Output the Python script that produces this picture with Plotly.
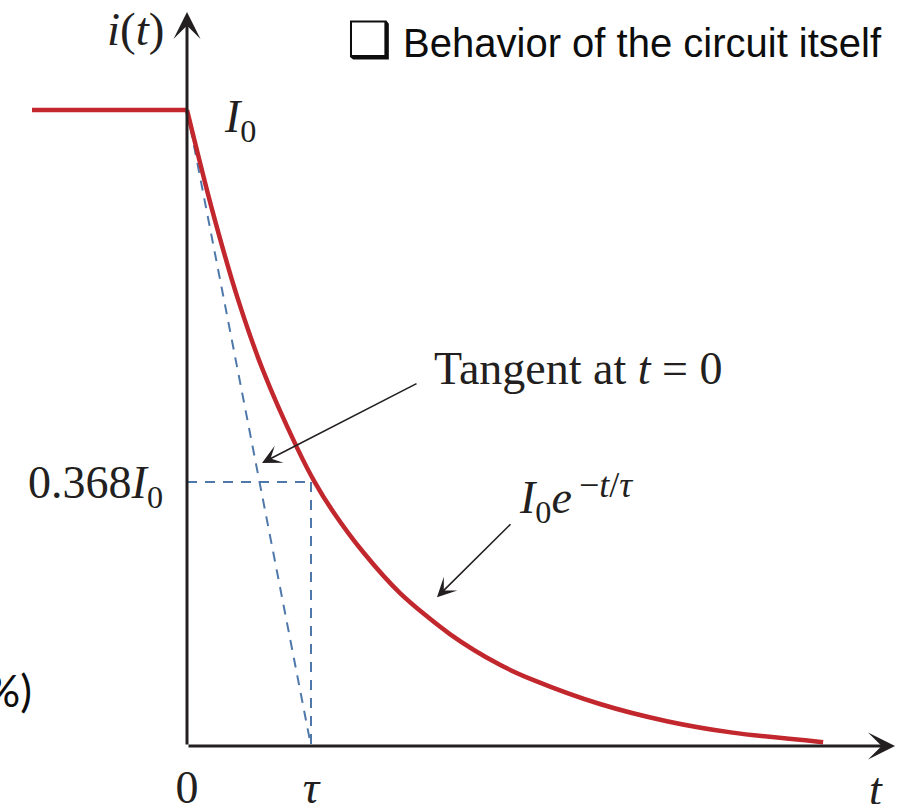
import plotly.graph_objects as go

# ---------------- data (t in units of tau, i in units of I0) -------------
t_flat = [-1.25, 0.0]
i_flat = [1.0, 1.0]

t_curve = [0.0, 0.20, 0.41, 0.61, 0.89, 1.03, 1.18, 1.42, 1.72, 2.12, 2.52, 2.79, 3.33, 3.87, 4.40, 5.13]
i_curve = [1.0, 0.845, 0.703, 0.592, 0.468, 0.415, 0.368, 0.305, 0.240, 0.176, 0.128, 0.104, 0.066, 0.039, 0.021, 0.006]

tau = 1.0
I0 = 1.0
level = 0.415                      # drawn height of the 0.368 I0 marker
tangent_t = [0.0, tau]
tangent_i = [I0, 0.0]

x_tick_vals = [0.0, tau]
x_tick_text = ["0", "<i>τ</i>"]
y_tick_vals = [level]
y_tick_text = ["0.368<i>I</i><sub>0</sub>"]

# ---------------- style -----------------
RED = "#C1272D"
BLUE = "#4F78AA"
INK = "#231F20"
SERIF = "Liberation Serif, Times New Roman, serif"
SANS = "Liberation Sans, Arial, sans-serif"

W, H = 898, 804
x_range = [-187 / 124, (W - 187) / 124]
y_range = [-(H - 746) / 636, 746 / 636]

fig = go.Figure()

dash = dict(color=BLUE, width=2, dash="10px,8px")
fig.add_trace(go.Scatter(x=tangent_t, y=tangent_i, mode="lines", line=dash))
fig.add_trace(go.Scatter(x=[0.0, tau], y=[level, level], mode="lines", line=dash))
fig.add_trace(go.Scatter(x=[tau, tau], y=[level, 0.0], mode="lines", line=dash))

fig.add_trace(go.Scatter(x=t_flat, y=i_flat, mode="lines",
                         line=dict(color=RED, width=4.5)))
fig.add_trace(go.Scatter(x=t_curve, y=i_curve, mode="lines",
                         line=dict(color=RED, width=4.5, shape="spline", smoothing=0.8)))

annotations = []

def arrow(x, y, ax, ay, width, size):
    annotations.append(dict(x=x, y=y, ax=ax, ay=ay, xref="x", yref="y", axref="x", ayref="y",
                            text="", showarrow=True, arrowhead=3, arrowsize=size,
                            arrowwidth=width, arrowcolor=INK))

# axes with arrows
arrow(5.71, 0.0, 0.0, 0.0, 3, 1.5)
arrow(0.0, 1.154, 0.0, 0.0, 3, 1.5)
# pointer arrows
arrow(0.605, 0.445, 1.863, 0.571, 1.6, 2.0)
arrow(2.016, 0.234, 2.621, 0.351, 1.6, 2.0)

def label(text, x, y, xanchor="center", yanchor="middle", size=46, family=SERIF, xref="x", yref="y", color=INK):
    annotations.append(dict(text=text, x=x, y=y, xref=xref, yref=yref, showarrow=False,
                            xanchor=xanchor, yanchor=yanchor,
                            font=dict(family=family, size=size, color=color)))

label("<i>i</i>(<i>t</i>)", -0.17, 1.128, xanchor="right", size=47)
label("<i>I</i><sub>0</sub>", 0.28, 0.985, xanchor="left")
label("Tangent at <i>t</i> = 0", 1.976, 0.594, xanchor="left")
label("<i>I</i><sub>0</sub><i>e</i>", 2.66, 0.385, xanchor="left")
label("−<i>t</i>/<i>τ</i>", 3.145, 0.41, xanchor="left", size=36)
label("<i>t</i>", 5.556, -0.069)
label("<span style='font-size:50px'>❑</span> Behavior of the circuit itself", 345 / W, 1 - 40 / H,
      xanchor="left", size=40, family=SANS, xref="paper", yref="paper", color="#0d0d0d")
label("%)", 34 / W, 1 - 690 / H, xanchor="right", size=44,
      family="Lato, Open Sans, sans-serif", xref="paper", yref="paper", color="#0d0d0d")

x_pos = (0 - y_range[0]) / (y_range[1] - y_range[0])
y_pos = (0 - x_range[0]) / (x_range[1] - x_range[0])

fig.update_layout(
    template="none",
    width=W, height=H,
    margin=dict(l=0, r=0, t=0, b=0, pad=0),
    paper_bgcolor="white", plot_bgcolor="white",
    showlegend=False,
    annotations=annotations,
    xaxis=dict(range=x_range, showgrid=False, zeroline=False, showline=False, ticks="",
               tickvals=x_tick_vals, ticktext=x_tick_text, anchor="free", position=x_pos,
               tickfont=dict(family=SERIF, size=46, color=INK), ticklabelstandoff=10,
               ticklabeloverflow="allow", automargin=False, fixedrange=True),
    yaxis=dict(range=y_range, showgrid=False, zeroline=False, showline=False, ticks="",
               tickvals=y_tick_vals, ticktext=y_tick_text, anchor="free", position=y_pos,
               tickfont=dict(family=SERIF, size=46, color=INK), ticklabelstandoff=24,
               ticklabeloverflow="allow", automargin=False, fixedrange=True),
)

fig.write_html("out.html", config={"displayModeBar": False},
               post_script="document.body.style.margin='0';document.body.style.overflow='hidden';")
